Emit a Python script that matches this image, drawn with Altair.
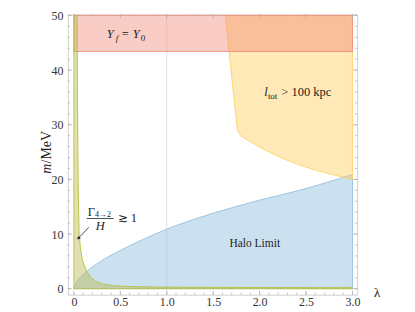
import altair as alt
import pandas as pd

# ---- data ----
halo_x = [0, 0.02, 0.05, 0.1, 0.27, 0.5, 0.77, 1.14, 1.5, 2.0, 2.43, 3.0]
halo_m = [0, 0.9, 1.7, 2.6, 4.8, 7.0, 9.2, 11.8, 13.8, 16.2, 18.0, 20.9]

gamma_x = [0, 0.036, 0.037, 0.041, 0.046, 0.051, 0.057, 0.07, 0.093, 0.13, 0.18, 0.24, 0.3, 0.42, 0.6, 1.0, 2.0, 3.0]
gamma_m = [50, 50, 40, 30, 20, 14, 10, 7.5, 5.2, 3.4, 2.1, 1.3, 0.9, 0.55, 0.38, 0.27, 0.2, 0.18]

ltot_x = [1.63, 1.76, 1.8, 1.9, 2.0, 2.2, 2.4, 2.6, 2.8, 3.0]
ltot_lo = [50, 29.0, 27.9, 26.9, 25.9, 24.2, 22.8, 21.7, 20.8, 20.0]
ltot_hi = [50] * len(ltot_x)

yf_x = [0, 3.0]
yf_lo = [43.4, 43.4]
yf_hi = [50, 50]

x_major = [0, 0.5, 1.0, 1.5, 2.0, 2.5, 3.0]
x_minor = [round(0.1 * i, 1) for i in range(0, 31)]
y_major = [0, 10, 20, 30, 40, 50]
y_minor = list(range(0, 51, 2))
grid_x = [1.0]

X_DOM = [-0.065, 3.05]
Y_DOM = [-1.1, 50.2]
W, H = 290, 281
SERIF = "Liberation Serif"

xs = alt.Scale(domain=X_DOM, nice=False, zero=False)
ys = alt.Scale(domain=Y_DOM, nice=False, zero=False)
XAX = alt.Axis(values=x_major, title=None, ticks=False, domain=False, grid=False,
               labelExpr="datum.value == 0 ? '0' : format(datum.value, '.1f')",
               labelFont=SERIF, labelFontSize=12, labelColor="#333",
               labelPadding=2, labelFlush=False)
YAX = alt.Axis(values=y_major, title=None, ticks=False, domain=False, grid=False,
               labelFont=SERIF, labelFontSize=12, labelColor="#333",
               labelPadding=5, labelFlush=False)

def X(f):
    return alt.X(f, scale=xs, axis=XAX)

def Y(f):
    return alt.Y(f, scale=ys, axis=YAX)

# grid line
grid = alt.Chart(pd.DataFrame({"x": grid_x, "lo": [Y_DOM[0]], "hi": [Y_DOM[1]]})).mark_rule(
    color="#e2e2e2", strokeWidth=1).encode(x=X("x:Q"), y=Y("lo:Q"), y2="hi:Q")

def region(xv, lo, hi, fill, stroke, op, interp="linear"):
    df = pd.DataFrame({"x": xv, "lo": lo, "hi": hi})
    return alt.Chart(df).mark_area(fill=fill, fillOpacity=op, stroke=stroke, strokeWidth=1,
                                   strokeOpacity=0.9, interpolate=interp).encode(
        x=X("x:Q"), y=Y("lo:Q"), y2="hi:Q")

halo = region(halo_x, [0] * len(halo_x), halo_m, "#8fbcdc", "#93c0df", 0.45, "monotone")
ltot = region(ltot_x, ltot_lo, ltot_hi, "#ffc94a", "#ffd266", 0.4)
yf = region(yf_x, yf_lo, yf_hi, "#f08070", "#f29080", 0.4)
gamma = region(gamma_x, [0] * len(gamma_x), gamma_m, "#b8bc50", "#b5c040", 0.45)

TC = "#b0b0b0"
def xticks(vals, y0, y1):
    return alt.Chart(pd.DataFrame({"t": vals})).mark_rule(color=TC, strokeWidth=0.8).encode(
        x=X("t:Q"), y=alt.value(y0), y2=alt.value(y1))

def yticks(vals, x0, x1):
    return alt.Chart(pd.DataFrame({"t": vals})).mark_rule(color=TC, strokeWidth=0.8).encode(
        y=Y("t:Q"), x=alt.value(x0), x2=alt.value(x1))

ticks = [
    xticks(x_major, H, H - 4), xticks(x_minor, H, H - 2),
    xticks(x_major, 0, 4), xticks(x_minor, 0, 2),
    yticks(y_major, 0, 4), yticks(y_minor, 0, 2),
    yticks(y_major, W, W - 4), yticks(y_minor, W, W - 2),
]

# annotations: text, x, y, size, style, align
ann_text = ["Y", "f", "=", "Y", "0",
            "l", "tot", "> 100 kpc",
            "Halo Limit",
            "Γ", "4→2", "H", "≳ 1",
            "λ"]
ann_x = [0.354, 0.451, 0.515, 0.633, 0.719,
         2.051, 2.089, 2.234,
         1.675,
         0.150, 0.228, 0.284, 0.472,
         3.232]
ann_y = [45.91, 45.37, 45.91, 45.91, 45.37,
         35.18, 34.65, 35.18,
         7.66,
         13.38, 13.15, 10.75, 12.13,
         -1.6]
ann_size = [12.5, 9, 12.5, 12.5, 9,
            12.5, 9, 12.5,
            11.5,
            12.5, 8, 12.5, 12.5,
            13]
ann_style = ["italic", "italic", "normal", "italic", "normal",
             "italic", "normal", "normal",
             "normal",
             "normal", "normal", "italic", "normal",
             "normal"]
ann_align = ["left", "left", "left", "left", "left",
             "left", "left", "left",
             "left",
             "left", "left", "center", "left",
             "left"]
ann = pd.DataFrame({"t": ann_text, "x": ann_x, "y": ann_y, "s": ann_size,
                    "st": ann_style, "al": ann_align})

text_layers = []
for (st, al), g in ann.groupby(["st", "al"]):
    for s, gg in g.groupby("s"):
        text_layers.append(
            alt.Chart(gg).mark_text(font=SERIF, fontSize=float(s), fontStyle=st, align=al,
                                    baseline="alphabetic", color="#222").encode(
                x=X("x:Q"), y=Y("y:Q"), text="t:N")
        )

# y axis title pieces (rotated)
ttl = pd.DataFrame({"t": ["m", "/MeV"], "x": [-0.29, -0.29], "y": [21.96, 25.89],
                    "st": ["italic", "normal"]})
title_layers = [
    alt.Chart(ttl[ttl.st == stv]).mark_text(font=SERIF, fontSize=14, fontStyle=stv, angle=270,
                                            align="center", baseline="middle", color="#222").encode(
        x=X("x:Q"), y=Y("y:Q"), text="t:N")
    for stv in ["italic", "normal"]
]

# fraction bar and arrow
frac = alt.Chart(pd.DataFrame({"x": [0.139], "x2": [0.429], "y": [12.84]})).mark_rule(
    color="#222", strokeWidth=0.8).encode(x=X("x:Q"), x2="x2:Q", y=Y("y:Q"))
arrow = alt.Chart(pd.DataFrame({"x": [0.161], "x2": [0.05], "y": [11.23], "y2": [9.25]})).mark_rule(
    color="#222", strokeWidth=0.8).encode(x=X("x:Q"), x2="x2:Q", y=Y("y:Q"), y2="y2:Q")
head = alt.Chart(pd.DataFrame({"x": [0.048], "y": [9.2]})).mark_point(
    shape="triangle-up", filled=True, size=14, angle=222, color="#222", opacity=1).encode(
    x=X("x:Q"), y=Y("y:Q"))

chart = alt.layer(
    grid, halo, ltot, yf, gamma, *ticks, *text_layers, *title_layers, frac, arrow, head
).properties(
    width=W, height=H,
    autosize=alt.AutoSizeParams(type="none"),
    padding={"left": 60, "top": 6, "right": 50, "bottom": 18},
).configure_view(stroke="#d0d0d0", strokeWidth=1)

chart.save("out.html", embed_options={"renderer": "svg", "actions": False})
